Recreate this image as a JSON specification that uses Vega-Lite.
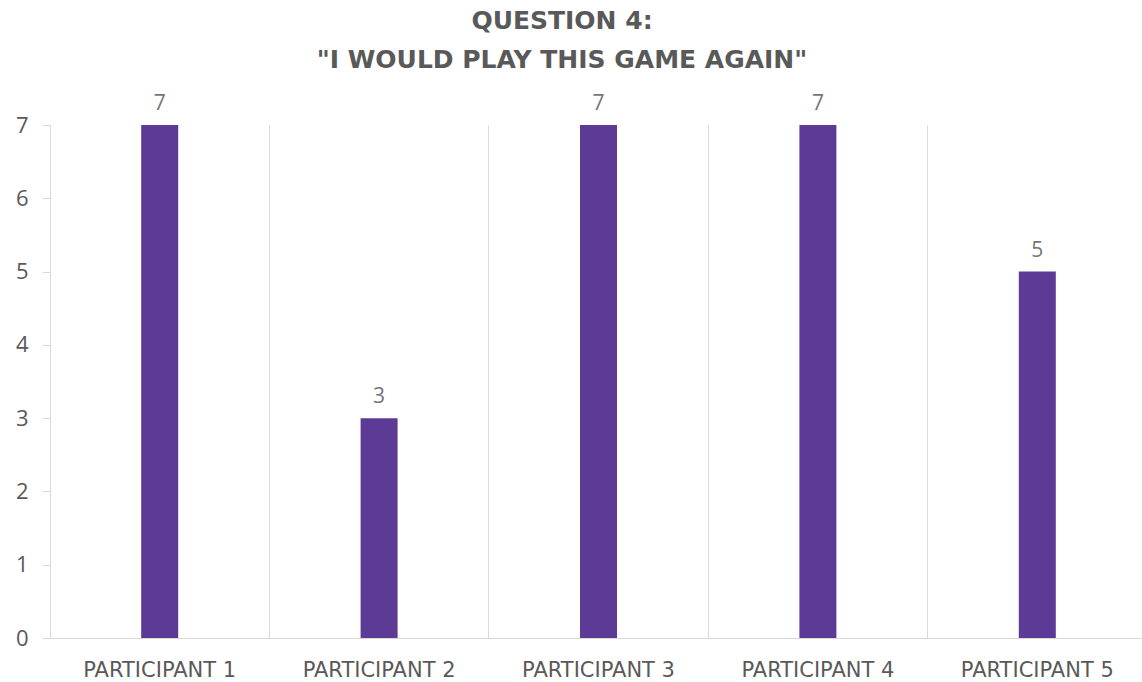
{
  "$schema": "https://vega.github.io/schema/vega-lite/v6.json",
  "autosize": "none",
  "width": 1092,
  "height": 513,
  "padding": {"left": 50, "top": 125, "right": 0, "bottom": 44},
  "background": "white",
  "title": {
    "text": ["QUESTION 4:", "\"I WOULD PLAY THIS GAME AGAIN\""],
    "font": "DejaVu Sans",
    "fontSize": 25,
    "fontWeight": "bold",
    "color": "#595959",
    "lineHeight": 39,
    "anchor": "middle",
    "dx": -34,
    "offset": 20
  },
  "data": {
    "values": [
      {"participant": "PARTICIPANT 1", "score": 7},
      {"participant": "PARTICIPANT 2", "score": 3},
      {"participant": "PARTICIPANT 3", "score": 7},
      {"participant": "PARTICIPANT 4", "score": 7},
      {"participant": "PARTICIPANT 5", "score": 5}
    ]
  },
  "encoding": {
    "x": {
      "field": "participant",
      "type": "nominal",
      "sort": null,
      "scale": {"range": [0, 1097], "paddingInner": 0, "paddingOuter": 0},
      "axis": {
        "title": null,
        "labelAngle": 0,
        "labelFont": "DejaVu Sans",
        "labelFontSize": 21,
        "labelColor": "#595959",
        "labelPadding": 21,
        "ticks": false,
        "domainColor": "#d9d9d9",
        "domainWidth": 1,
        "grid": true,
        "gridColor": "#d9d9d9",
        "bandPosition": 0
      }
    },
    "y": {
      "field": "score",
      "type": "quantitative",
      "scale": {"domain": [0, 7], "nice": false},
      "axis": {
        "title": null,
        "values": [0, 1, 2, 3, 4, 5, 6, 7],
        "grid": false,
        "domain": false,
        "tickColor": "#d9d9d9",
        "tickSize": 8,
        "labelFont": "Open Sans",
        "labelFontSize": 22,
        "labelColor": "#595959",
        "labelPadding": 14
      }
    }
  },
  "layer": [
    {"mark": {"type": "bar", "size": 37, "color": "#5E3A97"}},
    {
      "mark": {"type": "text", "dy": -15, "baseline": "alphabetic", "font": "Open Sans", "fontSize": 21, "color": "#767676"},
      "encoding": {"text": {"field": "score", "type": "quantitative"}}
    }
  ],
  "config": {"view": {"stroke": null}}
}
